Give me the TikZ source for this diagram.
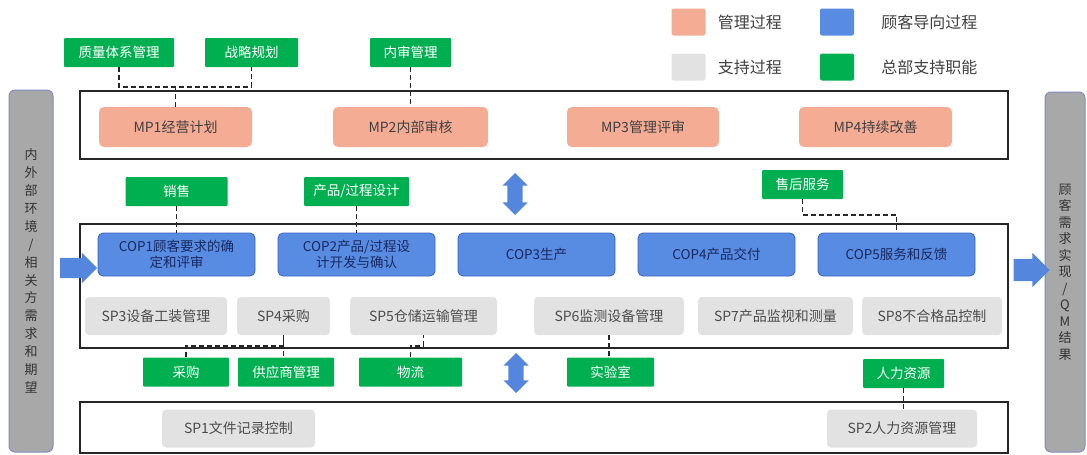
\documentclass[tikz,border=0pt]{standalone}
\usepackage{fontspec}
\setmainfont{Noto Sans CJK SC}
\usepackage{xcolor}
\usepackage{tikz}
\usetikzlibrary{positioning,shapes.arrows}

\definecolor{mpfill}{RGB}{244,172,148}
\definecolor{copfill}{RGB}{88,140,226}
\definecolor{copline}{RGB}{58,100,192}
\definecolor{coptext}{RGB}{25,40,95}
\definecolor{spfill}{RGB}{226,226,226}
\definecolor{hqfill}{RGB}{0,176,80}
\definecolor{sidefill}{RGB}{168,168,168}
\definecolor{sideline}{RGB}{130,140,190}
\definecolor{arrowblue}{RGB}{84,134,222}

\begin{document}
\begin{tikzpicture}[x=1pt,y=-1pt,
      frame_box/.style={
         rectangle,
         draw=black!85,
         line width=1.2pt,
         minimum width=928pt},
      mp_box/.style={
         rectangle,
         rounded corners=5pt,
         fill=mpfill,
         text=black!75,
         inner sep=0pt,
         minimum height=40pt,
         font=\fontsize{14}{16}\selectfont},
      cop_box/.style={
         rectangle,
         rounded corners=5pt,
         fill=copfill,
         draw=copline,
         line width=0.8pt,
         text=coptext,
         align=center,
         inner sep=0pt,
         minimum width=157pt,
         minimum height=43pt,
         font=\fontsize{13.5}{15.5}\selectfont},
      sp_box/.style={
         rectangle,
         rounded corners=4pt,
         fill=spfill,
         text=black!70,
         inner sep=0pt,
         minimum height=38pt,
         font=\fontsize{14}{16}\selectfont},
      hq_box/.style={
         rectangle,
         rounded corners=1pt,
         fill=hqfill,
         text=white,
         inner sep=0pt,
         minimum height=29pt,
         font=\fontsize{13.5}{15}\selectfont},
      side_bar/.style={
         rectangle,
         rounded corners=6pt,
         fill=sidefill,
         draw=sideline,
         line width=1pt,
         align=center,
         inner sep=0pt,
         text=black!80,
         font=\fontsize{13}{17.9}\selectfont},
      legend_sq/.style={
         rectangle,
         rounded corners=2pt,
         inner sep=0pt,
         minimum width=34pt,
         minimum height=27pt},
      legend_txt/.style={
         inner sep=0pt,
         text=black!75,
         font=\fontsize{16}{18}\selectfont},
      flow_arrow/.style={
         single arrow,
         fill=arrowblue,
         inner sep=10pt,
         minimum width=0pt,
         single arrow head extend=5pt},
      swap_arrow/.style={
         double arrow,
         shape border rotate=90,
         fill=arrowblue,
         inner sep=7.5pt,
         minimum width=0pt,
         double arrow head extend=5pt},
      dash_link/.style={
         dash pattern=on 5pt off 3pt,
         line width=1.3pt,
         draw=black!85}
]
      \useasboundingbox (0,0) rectangle (1087,455);

      %legend
      \node[legend_sq,fill=mpfill] (lg_mp) at (688.5,22) {};
      \node[legend_txt,right=12pt of lg_mp] (lg_mp_txt) {管理过程};
      \node[legend_sq,fill=copfill] (lg_cop) at (837,22) {};
      \node[legend_txt,right=27pt of lg_cop] (lg_cop_txt) {顾客导向过程};
      \node[legend_sq,fill=spfill] (lg_sp) at (688.5,67) {};
      \node[legend_txt,right=12pt of lg_sp] (lg_sp_txt) {支持过程};
      \node[legend_sq,fill=hqfill] (lg_hq) at (837,67) {};
      \node[legend_txt,right=27pt of lg_hq] (lg_hq_txt) {总部支持职能};

      %side bars
      \node[side_bar,minimum width=44pt,minimum height=362pt] (env) at (31,271)
         {内\\外\\部\\环\\境\\/\\相\\关\\方\\需\\求\\和\\期\\望};
      \node[side_bar,minimum width=40pt,minimum height=360pt,
            font=\fontsize{13}{16.5}\selectfont] (result) at (1065,272)
         {顾\\客\\需\\求\\实\\现\\/\\Q\\M\\结\\果};

      %frames
      \node[frame_box,minimum height=68pt] (mp_frame) at (544,125) {};
      \node[frame_box,minimum height=124pt] (cop_frame) at (544,286) {};
      \node[frame_box,minimum height=51pt] (sp_frame) at (544,427.5) {};

      %processes
      \foreach \n/\x/\w/\t in {% name/x/width/text
         MP1/175.5/153/MP1经营计划,
         MP2/410.5/155/MP2内部审核,
         MP3/643/152/MP3管理评审,
         MP4/875.5/153/MP4持续改善}
         \node[mp_box,minimum width=\w pt] (\n) at (\x,127) {\t};

      \foreach \n/\x/\t in {
         COP1/176.5/{COP1顾客要求的确\\定和评审},
         COP2/356.5/{COP2产品/过程设\\计开发与确认},
         COP3/536.5/COP3生产,
         COP4/716.5/COP4产品交付,
         COP5/896.5/COP5服务和反馈}
         \node[cop_box] (\n) at (\x,254.5) {\t};

      \foreach \n/\x/\y/\w/\t in {
         SP3/156/316/142/SP3设备工装管理,
         SP4/283.5/316/93/SP4采购,
         SP5/423.5/316/147/SP5仓储运输管理,
         SP6/609/316/150/SP6监测设备管理,
         SP7/775.5/316/155/SP7产品监视和测量,
         SP8/932/316/140/SP8不合格品控制,
         SP1/238.5/428.5/153/SP1文件记录控制,
         SP2/902/428.5/150/SP2人力资源管理}
         \node[sp_box,minimum width=\w pt] (\n) at (\x,\y) {\t};

      %headquarters support
      \foreach \n/\x/\y/\w/\t in {
         qms/119/52.5/110/质量体系管理,
         strat/251.5/52.5/93/战略规划,
         audit/410.5/52.5/81/内审管理,
         sales/176.5/191.5/102/销售,
         pd/356.5/191.5/105/{产品/过程设计},
         service/802.5/184.5/81/售后服务,
         pur/186/372/86/采购,
         sup/286/372/96/供应商管理,
         logi/410.5/372/103/物流,
         lab/610.5/372/87/实验室,
         hr/903.5/373.5/81/人力资源}
         \node[hq_box,minimum width=\w pt] (\n) at (\x,\y) {\t};

      %arrows
      \node[flow_arrow,minimum height=37pt] (in_arrow) at (73.5,268) {};
      \node[flow_arrow,minimum height=36pt,inner sep=11pt,single arrow head extend=6pt] (out_arrow) at (1026,270) {};
      \node[swap_arrow,minimum height=42pt] (mp_cop) at (515,194) {};
      \node[swap_arrow,minimum height=40pt] (cop_sp) at (516,373) {};

      %dashed links
      \coordinate (mp_bus) at (0,87);
      \coordinate (svc_bus) at (0,215);
      \coordinate (sp_bus) at (0,346);

      \draw[dash_link] (qms.south) -- (qms.south |- mp_bus) -| (strat.south);
      \draw[dash_link] (MP1.north) -- (MP1.north |- mp_bus);
      \draw[dash_link] (service.south) -- (service.south |- svc_bus) -| (COP5.north);
      \draw[dash_link] (pur.north) -- (pur.north |- sp_bus) -| (SP4.south);
      \draw[dash_link] (logi.north) -- (logi.north |- sp_bus) -| (SP5.south);

      \foreach \i/\j in {audit/MP2, sales/COP1, pd/COP2, SP4/sup, SP6/lab, hr/SP2}
         \draw[dash_link] (\i.south) -- (\i.south |- \j.north);
\end{tikzpicture}
\end{document}
